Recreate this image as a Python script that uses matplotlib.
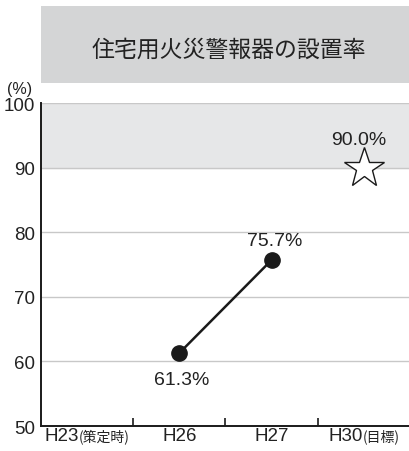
import numpy as np
import matplotlib
matplotlib.use('Agg')
import matplotlib.pyplot as plt
from matplotlib.patches import Rectangle
from matplotlib.offsetbox import TextArea, HPacker, AnnotationBbox
from matplotlib.transforms import blended_transform_factory

title = '住宅用火災警報器の設置率'
cat_main = ['H23', 'H26', 'H27', 'H30']
cat_note = ['(策定時)', '', '', '(目標)']
actual_x = [1, 2]
actual_y = [61.3, 75.7]
target_x = [3]
target_y = [90.0]
yticks = [50, 60, 70, 80, 90, 100]

narrow = ['Liberation Sans', 'DejaVu Sans']
cjk = ['Noto Sans CJK JP', 'DejaVu Sans']

fig = plt.figure(figsize=(4.10, 4.52), dpi=100)
ax = fig.add_axes([0.1, 0.0553, 0.9, 0.7146])

# title box
fig.patches.append(Rectangle((0.1, 0.814), 0.9, 0.1705, transform=fig.transFigure,
                             facecolor='#d4d5d6', edgecolor='none'))
fig.text(0.558, 0.888, title, ha='center', va='center', fontsize=16.5,
         family=cjk, color='#222222')

# target band and grid
ax.axhspan(90, 100, color='#e6e7e8', zorder=0)
for v in yticks[1:]:
    ax.axhline(v, color='#c8c8c8', lw=1, zorder=1)

ax.plot(actual_x, actual_y, color='#1a1a1a', lw=1.8, marker='o', ms=11, zorder=3)
ax.plot(target_x, target_y, ls='none', marker='*', ms=30, mfc='white',
        mec='#1a1a1a', mew=1, zorder=3)

lab = dict(textcoords='offset points', ha='center', va='center', fontsize=14,
           family='Liberation Sans', color='#222222')
ax.annotate(f'{actual_y[0]:.1f}%', (actual_x[0], actual_y[0]), xytext=(2, -19), **lab)
ax.annotate(f'{actual_y[1]:.1f}%', (actual_x[1], actual_y[1]), xytext=(2, 14), **lab)
ax.annotate(f'{target_y[0]:.1f}%', (target_x[0], target_y[0]), xytext=(-4, 20), **lab)

ax.set_xlim(-0.5, 3.5)
ax.set_ylim(50, 100)
ax.set_yticks(yticks)
ax.set_yticklabels([str(v) for v in yticks], family=narrow, fontsize=13.5, color='#222222')
ax.tick_params(axis='y', length=0, pad=4)
ax.set_xticks([0.5, 1.5, 2.5])
ax.set_xticklabels([])
ax.tick_params(axis='x', direction='in', length=6, width=1.2, color='#1a1a1a')

for s in ['top', 'right']:
    ax.spines[s].set_visible(False)
for s in ['left', 'bottom']:
    ax.spines[s].set_color('#1a1a1a')
    ax.spines[s].set_linewidth(1.4)

# category labels with smaller CJK note
trans = blended_transform_factory(ax.transData, ax.transAxes)
for i, (m, n) in enumerate(zip(cat_main, cat_note)):
    parts = [TextArea(m, textprops=dict(family=narrow, fontsize=13.5, color='#222222'))]
    if n:
        parts.append(TextArea(n, textprops=dict(family=cjk, fontsize=10, color='#222222')))
    box = HPacker(children=parts, align='baseline', pad=0, sep=0)
    ab = AnnotationBbox(box, (i, 0), xycoords=trans, box_alignment=(0.5, 1),
                        xybox=(0, -1), boxcoords='offset points', frameon=False,
                        annotation_clip=False)
    ax.add_artist(ab)

fig.text(0.048, 0.801, '(%)', ha='center', va='center', fontsize=11.5, family=narrow,
         color='#222222')

fig.savefig('out.png', dpi=100)
